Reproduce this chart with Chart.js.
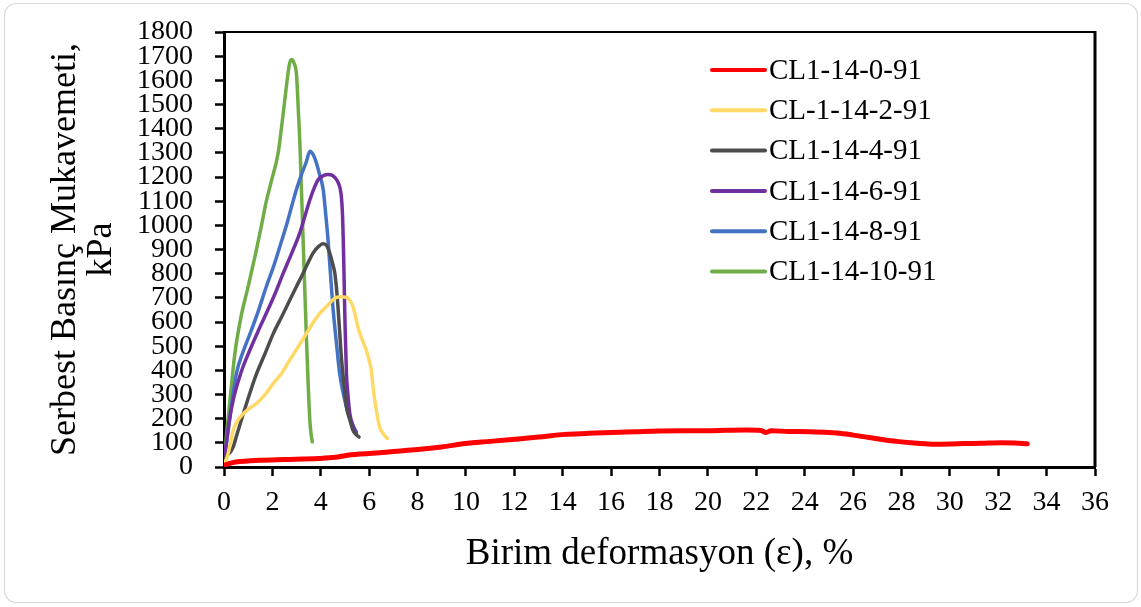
<!DOCTYPE html>
<html>
<head>
<meta charset="utf-8">
<script src="https://cdn.jsdelivr.net/npm/chart.js@4.4.1/dist/chart.umd.min.js"></script>
<style>
html,body{margin:0;padding:0;background:#fff;}
#wrap{position:relative;width:1141px;height:607px;}
</style>
</head>
<body>
<div id="wrap"><canvas id="c" width="1141" height="607"></canvas></div>
<script>
// ---- data ----
const seriesNames = ['CL1-14-0-91','CL-1-14-2-91','CL1-14-4-91','CL1-14-6-91','CL1-14-8-91','CL1-14-10-91'];
const seriesColors = ['#FF0000','#FFD966','#4D4D4D','#7030A0','#4472C4','#70AD47'];

const strain0 = [0,0.2,0.49,1.0,1.46,2.5,3.9,4.6,5.1,6.3,7.0,8.0,9.0,9.96,11.0,11.9,13.0,14.1,15.0,16.0,17.0,17.97,19.0,19.9,20.8,21.6,22.2,22.4,22.6,23.3,24.2,25.0,25.6,26.0,26.6,27.2,27.8,28.4,29.0,29.4,30.0,30.6,31.3,32.1,32.7,33.2];
const stress0 = [7,14,21,25,28,31,35,40,49,58,64,72,83,97,106,114,124,135,139,143,146,149,150,150,152,153,151,143,150,147,146,143,138,132,123,114,106,100,96,94,95,97,98,100,99,96];

const strain2 = [0,0.11,0.25,0.38,0.55,0.8,1.05,1.35,1.7,2.04,2.4,2.72,3.05,3.41,3.7,3.96,4.2,4.37,4.5,4.65,4.85,5.0,5.13,5.23,5.33,5.43,5.53,5.7,5.88,6.0,6.09,6.15,6.23,6.33,6.43,6.6,6.75];
const stress2 = [20,35,90,152,190,221,243,263,300,346,390,443,495,553,600,636,660,678,692,702,705,703,698,685,664,625,581,530,484,440,401,340,277,215,166,135,118];

const strain4 = [0,0.11,0.25,0.38,0.55,0.8,1.05,1.35,1.7,2.04,2.4,2.72,3.0,3.27,3.5,3.68,3.9,4.1,4.25,4.37,4.48,4.58,4.65,4.71,4.78,4.85,4.95,5.06,5.2,5.33,5.45,5.58];
const stress4 = [30,48,60,83,140,221,300,387,470,553,625,691,748,802,850,885,912,924,915,885,845,802,740,664,560,456,350,249,195,152,135,124];

const strain6 = [0,0.2,0.38,0.7,1.07,1.4,1.75,2.1,2.45,2.8,3.13,3.35,3.55,3.75,3.89,4.1,4.3,4.5,4.65,4.78,4.85,4.9,4.93,4.96,5.0,5.06,5.13,5.2,5.33,5.47];
const stress6 = [20,180,277,390,484,560,636,715,802,885,968,1040,1106,1160,1189,1205,1210,1205,1189,1160,1120,1040,940,800,600,387,290,221,170,137];

const strain8 = [0,0.2,0.32,0.52,0.8,1.07,1.4,1.75,2.05,2.31,2.58,2.8,3.0,3.2,3.4,3.55,3.7,3.82,3.95,4.1,4.2,4.3,4.4,4.5,4.64,4.78,4.92,5.06,5.25,5.47];
const stress8 = [20,170,263,390,480,550,640,747,830,912,1000,1080,1150,1210,1262,1307,1290,1258,1210,1148,1050,940,800,664,520,387,310,249,190,145];

const strain10 = [0,0.1,0.2,0.45,0.7,1.0,1.3,1.55,1.75,1.95,2.24,2.42,2.58,2.7,2.79,2.9,3.0,3.07,3.13,3.2,3.27,3.34,3.41,3.48,3.55,3.6,3.65];
const stress10 = [15,130,230,470,620,747,880,1000,1100,1180,1300,1440,1576,1665,1686,1670,1620,1480,1355,1150,940,730,525,340,190,135,104];

const xTicks = [0,2,4,6,8,10,12,14,16,18,20,22,24,26,28,30,32,34,36];
const yTicks = [0,100,200,300,400,500,600,700,800,900,1000,1100,1200,1300,1400,1500,1600,1700,1800];

const xTitle = 'Birim deformasyon (ε), %';
const yTitle = ['Serbest Basınç Mukavemeti,', 'kPa'];

// ---- build ----
const strains = [strain0,strain2,strain4,strain6,strain8,strain10];
const stresses = [stress0,stress2,stress4,stress6,stress8,stress10];
const toPts = (xs, ys) => xs.map((x,i)=>({x:x, y:ys[i]}));
const datasets = seriesNames.map((n,i)=>({
  label:n,
  data:toPts(strains[i],stresses[i]),
  borderColor:seriesColors[i],
  backgroundColor:seriesColors[i],
  borderWidth: i===0 ? 5 : 3.5,
  pointRadius:0,
  cubicInterpolationMode:'monotone',
  fill:false,
  borderCapStyle:'round',
  borderJoinStyle:'round'
}));
const FONT = "'Liberation Serif','Times New Roman',serif";

const frame = {
  id:'frame',
  beforeDraw(chart){
    const ctx = chart.ctx;
    ctx.save();
    ctx.fillStyle='#fff';
    ctx.fillRect(0,0,chart.width,chart.height);
    ctx.strokeStyle='#d9d9d9';
    ctx.lineWidth=1.2;
    ctx.beginPath();
    ctx.roundRect(4.5,3.5,1133,599,12);
    ctx.stroke();
    ctx.restore();
  },
  afterDatasetsDraw(chart){
    const {ctx, chartArea:a} = chart;
    ctx.save();
    ctx.strokeStyle='#000';
    ctx.lineWidth=2;
    ctx.beginPath();
    ctx.moveTo(a.left, a.top);
    ctx.lineTo(a.right, a.top);
    ctx.stroke();
    ctx.lineWidth=3;
    ctx.beginPath();
    ctx.moveTo(a.right, a.top-1);
    ctx.lineTo(a.right, a.bottom);
    ctx.stroke();
    // legend
    const x0 = 712, x1 = 765, tx = 769, y0 = 70, dy = 40.3;
    ctx.font = "29px " + FONT;
    ctx.textBaseline='middle';
    ctx.textAlign='left';
    seriesNames.forEach((n,i)=>{
      const y = y0 + i*dy;
      ctx.strokeStyle = seriesColors[i];
      ctx.lineWidth = 4;
      ctx.lineCap='round';
      ctx.beginPath();
      ctx.moveTo(x0,y);
      ctx.lineTo(x1,y);
      ctx.stroke();
      ctx.fillStyle='#000';
      ctx.fillText(n, tx, y+1);
    });
    ctx.restore();
  }
};

new Chart(document.getElementById('c'), {
  type:'line',
  data:{datasets},
  options:{
    responsive:false,
    animation:false,
    events:[],
    layout:{padding:{top:32,right:46,bottom:0,left:0}},
    plugins:{legend:{display:false}, tooltip:{enabled:false}},
    scales:{
      x:{
        type:'linear', min:0, max:36,
        afterBuildTicks(s){ s.ticks = xTicks.map(v=>({value:v})); },
        afterFit(s){ s.height = 140; s.paddingLeft=0; s.paddingRight=0; },
        ticks:{autoSkip:false, maxRotation:0, padding:10, color:'#000', font:{family:FONT, size:28}, callback:v=>String(v)},
        grid:{display:true, drawOnChartArea:false, drawTicks:true, tickLength:9, tickWidth:2.5, tickColor:'#000', color:'#000'},
        border:{display:true, color:'#000', width:3},
        title:{display:true, text:xTitle, color:'#000', font:{family:FONT, size:37, lineHeight:1.2}, padding:{top:0,bottom:31}}
      },
      y:{
        type:'linear', min:0, max:1800,
        afterBuildTicks(s){ s.ticks = yTicks.map(v=>({value:v})); },
        afterFit(s){ s.width = 224; s.paddingTop=0; s.paddingBottom=0; },
        ticks:{autoSkip:false, padding:22, color:'#000', font:{family:FONT, size:28}, callback:v=>String(v)},
        grid:{display:true, drawOnChartArea:false, drawTicks:true, tickLength:9, tickWidth:2.5, tickColor:'#000', color:'#000'},
        border:{display:true, color:'#000', width:3},
        title:{display:true, text:yTitle, color:'#000', font:{family:FONT, size:36, lineHeight:1.0}, padding:{top:48,bottom:0}}
      }
    }
  },
  plugins:[frame]
});
</script>
</body>
</html>
